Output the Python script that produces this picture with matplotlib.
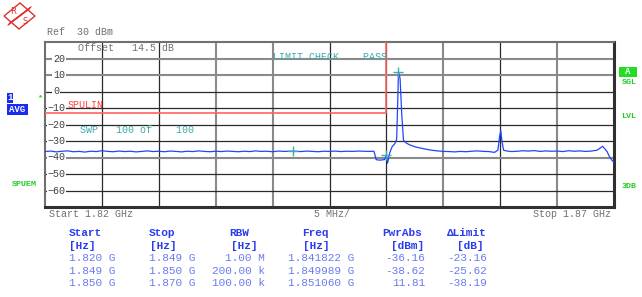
import matplotlib
matplotlib.use("Agg")
from matplotlib import pyplot as plt
from matplotlib.patches import Polygon, Rectangle
from matplotlib.transforms import Affine2D

W, H = 642, 297

# averaged trace (MHz, dBm)
freq_mhz = [1820.0, 1820.5, 1821.0, 1821.5, 1822.0, 1822.5, 1823.0, 1823.5, 1824.0, 1824.5,
            1825.0, 1825.5, 1826.0, 1826.5, 1827.0, 1827.5, 1828.0, 1828.5, 1829.0, 1829.5,
            1830.0, 1830.5, 1831.0, 1831.5, 1832.0, 1832.5, 1833.0, 1833.5, 1834.0, 1834.5,
            1835.0, 1835.5, 1836.0, 1836.5, 1837.0, 1837.5, 1838.0, 1838.5, 1839.0, 1839.5,
            1840.0, 1840.5, 1841.0, 1841.5, 1841.82, 1842.5, 1843.0, 1843.5, 1844.0, 1844.5,
            1845.0, 1845.5, 1846.0, 1846.5, 1847.0, 1847.5, 1848.0, 1848.5, 1848.9, 1849.0,
            1849.1, 1849.4, 1849.7, 1849.85, 1849.99, 1850.1, 1850.3, 1850.5, 1850.75, 1850.9,
            1851.0, 1851.06, 1851.2, 1851.35, 1851.5, 1851.7, 1852.0, 1852.5, 1853.0, 1853.5,
            1854.0, 1854.5, 1855.0, 1855.5, 1856.0, 1856.5, 1857.0, 1857.5, 1858.0, 1858.5,
            1859.0, 1859.5, 1859.8, 1859.95, 1860.05, 1860.15, 1860.3, 1860.6, 1861.0, 1861.5,
            1862.0, 1862.5, 1863.0, 1863.5, 1864.0, 1864.5, 1865.0, 1865.5, 1866.0, 1866.5,
            1867.0, 1867.5, 1868.0, 1868.5, 1868.8, 1869.0, 1869.2, 1869.4, 1869.6, 1869.8,
            1870.0]
level_dbm = [-36.4, -36.1, -36.6, -36.2, -36.0, -36.5, -36.3, -36.7, -36.2, -36.4,
             -35.9, -36.3, -36.5, -36.1, -36.4, -36.2, -36.6, -36.3, -36.0, -36.4,
             -36.2, -36.5, -36.1, -36.3, -36.6, -36.2, -36.4, -36.0, -36.3, -36.5,
             -36.2, -36.4, -36.1, -36.3, -36.5, -36.2, -36.4, -36.0, -36.3, -36.2,
             -36.5, -36.1, -36.3, -36.2, -36.16, -36.4, -36.1, -36.3, -36.5, -36.2,
             -36.3, -36.1, -36.4, -36.2, -36.3, -36.1, -36.2, -36.3, -36.2, -38.5,
             -41.3, -41.6, -41.4, -41.2, -38.62, -43.5, -37.0, -33.5, -31.5, -29.0,
             -5.0, 11.81, 8.0, -14.0, -29.5, -31.0, -32.2, -33.5, -34.3, -35.0,
             -35.6, -36.0, -36.3, -36.4, -36.6, -36.3, -36.5, -36.2, -36.0, -36.3,
             -36.4, -36.9, -35.5, -27.0, -23.7, -30.0, -35.6, -36.1, -36.4, -36.2,
             -35.9, -36.1, -35.8, -36.3, -36.0, -36.2, -36.1, -36.4, -35.9, -36.2,
             -36.0, -36.3, -36.1, -35.6, -34.2, -33.2, -34.8, -36.5, -39.5, -41.5,
             -43.0]

# spurious emission limit line
limit_freq = [1820.0, 1850.0, 1850.0]
limit_level = [-13.0, -13.0, 50.0]

# marker table
range_start = ['1.820 G', '1.849 G', '1.850 G']
range_stop = ['1.849 G', '1.850 G', '1.870 G']
range_rbw = ['1.00 M', '200.00 k', '100.00 k']
marker_freq = [1841.822, 1849.989, 1851.060]
marker_level = [-36.16, -38.62, 11.81]
range_limit = [-13.0, -13.0, 50.0]

ytick_vals = [20, 10, 0, -10, -20, -30, -40, -50, -60]
xgrid_mhz = [1825, 1830, 1835, 1840, 1845, 1850, 1855, 1860, 1865]

mono = 'Liberation Mono'
gray_txt = '#707070'
teal = '#40aaaa'
green = '#22cc22'
blue_hdr = '#2a3cf0'
blue_val = '#6a7cf0'
logo_red = '#e03030'

fig = plt.figure(figsize=(W / 100, H / 100), dpi=100)
fig.patch.set_facecolor('white')
# pixel coordinates (origin top-left) for the screen furniture
PX = Affine2D().scale(1 / W, -1 / H).translate(0, 1) + fig.transFigure


def ptext(x, y, s, **kw):
    kw.setdefault('family', mono)
    kw.setdefault('fontsize', 7.2)
    kw.setdefault('color', gray_txt)
    kw.setdefault('va', 'center')
    return fig.text(x, y, s, transform=PX, **kw)


ax = fig.add_axes([45 / W, 1 - 207 / H, 569 / W, 165 / H])
ax.set_xlim(1820, 1870)
ax.set_ylim(-70, 30)
ax.set_xticks([])
ax.set_yticks([])
for side in ['top', 'left']:
    ax.spines[side].set_color('#707070')
    ax.spines[side].set_linewidth(1.5)
for side in ['bottom', 'right']:
    ax.spines[side].set_color('#303030')
    ax.spines[side].set_linewidth(2.2)

dark_v = [1825, 1830, 1845, 1850, 1860]
for f in xgrid_mhz:
    if f in dark_v:
        ax.axvline(f, color='#2a2a2a', lw=0.9, zorder=1)
    else:
        ax.axvline(f, color='#8a8a8a', lw=1.5, zorder=1)
dark_h = [0, -10, -20, -30, -50, -60]
for v in ytick_vals:
    if v in dark_h:
        ax.axhline(v, color='#2a2a2a', lw=0.9, zorder=1)
    else:
        ax.axhline(v, color='#8a8a8a', lw=1.5, zorder=1)

ytr = ax.get_yaxis_transform()
for v in ytick_vals:
    if v < 0:
        lab, xa = '\u2212' + str(-v), 0.004
    else:
        lab, xa = str(v), 0.014
    ax.text(xa, v, lab, transform=ytr, family=mono, fontsize=7.2, color='#404040',
            va='center', ha='left', zorder=2,
            bbox=dict(facecolor='white', edgecolor='none', pad=0.4))

ax.plot(limit_freq, limit_level, color='#ff6464', lw=1.2, zorder=3)
ax.plot(freq_mhz, level_dbm, color='#2244ff', lw=0.9, zorder=4)
ax.plot(marker_freq, marker_level, linestyle='none', marker='+', markersize=7,
        markeredgewidth=1.0, color=teal, zorder=5)

# texts inside the grid
ptext(78, 48, 'Offset   14.5 dB')
ptext(273, 57, 'LIMIT CHECK    PASS', color=teal)
ptext(80, 130, 'SWP   100 of    100', color=teal)
ptext(68, 105, 'SPULIN', color='#ff4040', fontsize=7.2, zorder=6)

# header / footer
ptext(47, 32, 'Ref  30 dBm')
ptext(49, 214, 'Start 1.82 GHz')
ptext(332, 214, '5 MHz/', ha='center')
ptext(611, 214, 'Stop 1.87 GHz', ha='right')

# R&S logo
fig.patches.append(Polygon([(4, 16), (20, 3), (35, 16), (19, 29)], closed=True,
                           fill=False, edgecolor=logo_red, lw=1.0, transform=PX))
for o in [-1.6, -0.8, 0.0, 0.8, 1.6]:
    fig.lines.append(plt.Line2D([9 - 0.66 * o, 30 - 0.66 * o], [24 + 0.75 * o, 8 + 0.75 * o],
                                color=logo_red, lw=0.7, transform=PX))
ptext(13, 11, 'R', color=logo_red, fontsize=6, ha='center', family='DejaVu Sans')
ptext(25, 22, 'S', color=logo_red, fontsize=6, ha='center', family='DejaVu Sans')

# left side status
fig.patches.append(Rectangle((7, 93), 6, 10, facecolor='#1a2cf0', edgecolor='none', transform=PX))
fig.patches.append(Rectangle((7, 104), 21, 10.5, facecolor='#1a2cf0', edgecolor='none', transform=PX))
ptext(10, 98, '1', color='white', fontsize=6.5, ha='center', weight='bold')
ptext(17.5, 109.5, 'AVG', color='white', fontsize=6.5, ha='center', weight='bold')
ptext(40, 98, '*', color=green, fontsize=6, ha='center', weight='bold')
ptext(24, 185, 'SPUEM', color=green, fontsize=6, ha='center', weight='bold')

# right side status
fig.patches.append(Rectangle((619, 67), 18, 10, facecolor='#22dd22', edgecolor='none', transform=PX))
ptext(628, 72, 'A', color='white', fontsize=6.5, ha='center', weight='bold')
ptext(629, 83, 'SGL', color=green, fontsize=6, ha='center', weight='bold')
ptext(629, 117, 'LVL', color=green, fontsize=6, ha='center', weight='bold')
ptext(629, 187, '3DB', color=green, fontsize=6, ha='center', weight='bold')

# marker / range table
hdr = dict(color=blue_hdr, fontsize=8, weight='bold')
ptext(69, 233, 'Start', **hdr)
ptext(149, 233, 'Stop', **hdr)
ptext(229, 233, 'RBW', **hdr)
ptext(302, 233, 'Freq', **hdr)
ptext(382, 233, 'PwrAbs', **hdr)
ptext(447, 233, '\u0394Limit', **hdr)
ptext(69, 246, '[Hz]', **hdr)
ptext(150, 246, '[Hz]', **hdr)
ptext(231, 246, '[Hz]', **hdr)
ptext(303, 246, '[Hz]', **hdr)
ptext(391, 246, '[dBm]', **hdr)
ptext(457, 246, '[dB]', **hdr)

row_y = [258, 270.5, 283]
val = dict(color=blue_val, fontsize=8)
for i in range(3):
    y = row_y[i]
    ptext(69, y, range_start[i], **val)
    ptext(149, y, range_stop[i], **val)
    ptext(265, y, range_rbw[i], ha='right', **val)
    ptext(288, y, '%.6f G' % (marker_freq[i] / 1000), **val)
    ptext(425, y, '%.2f' % marker_level[i], ha='right', **val)
    ptext(447, y, '%.2f' % (marker_level[i] - range_limit[i]), **val)

fig.savefig('out.png', dpi=100)
